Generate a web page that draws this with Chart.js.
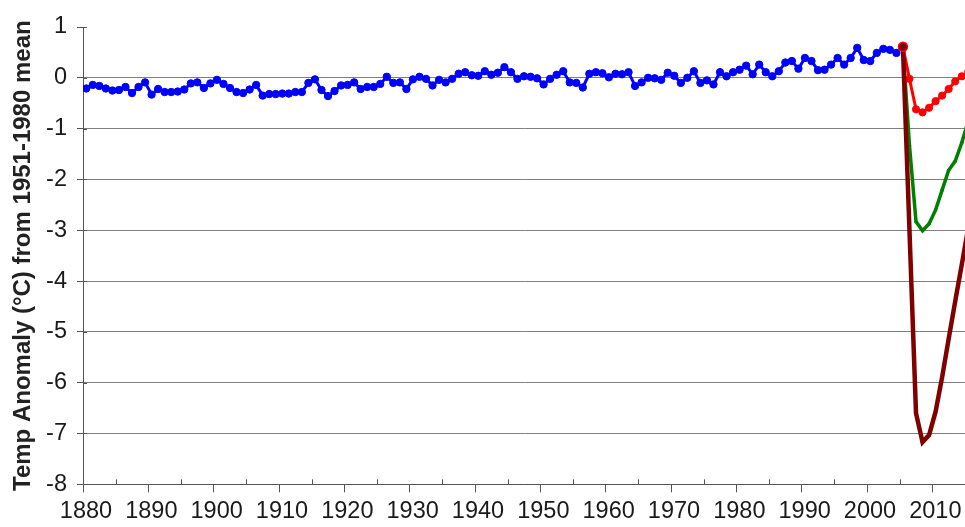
<!DOCTYPE html>
<html>
<head>
<meta charset="utf-8">
<script src="https://cdn.jsdelivr.net/npm/chart.js@4/dist/chart.umd.min.js"></script>
<style>
html,body{margin:0;padding:0;background:#fff;}
#wrap{width:965px;height:527px;position:relative;}
</style>
</head>
<body>
<div id="wrap"><canvas id="c" width="965" height="527"></canvas></div>
<script>
// ---- data ----
// observed annual anomalies, one per year starting 1880
const blueStartYear = 1880;
const blueValues = [
  -0.21,-0.14,-0.16,-0.21,-0.25,-0.24,-0.18,-0.30,-0.18,-0.09,
  -0.33,-0.22,-0.28,-0.28,-0.27,-0.23,-0.11,-0.09,-0.20,-0.11,
  -0.04,-0.12,-0.20,-0.28,-0.30,-0.23,-0.14,-0.35,-0.32,-0.32,
  -0.31,-0.31,-0.28,-0.28,-0.10,-0.03,-0.24,-0.36,-0.26,-0.15,
  -0.14,-0.09,-0.22,-0.18,-0.18,-0.12, 0.02,-0.10,-0.09,-0.22,
  -0.03, 0.02,-0.02,-0.15,-0.04,-0.09,-0.02, 0.08, 0.11, 0.05,
   0.04, 0.13, 0.06, 0.10, 0.21, 0.11,-0.02, 0.03, 0.02,-0.01,
  -0.13,-0.02, 0.06, 0.13,-0.09,-0.10,-0.19, 0.08, 0.11, 0.09,
   0.01, 0.08, 0.07, 0.11,-0.16,-0.09, 0.00,-0.01,-0.04, 0.10,
   0.04,-0.10, 0.00, 0.13,-0.10,-0.05,-0.13, 0.11, 0.03, 0.11,
   0.16, 0.24, 0.07, 0.26, 0.11, 0.03, 0.13, 0.30, 0.33, 0.18,
   0.39, 0.33, 0.15, 0.16, 0.26, 0.39, 0.26, 0.39, 0.59, 0.35,
   0.33, 0.49, 0.57, 0.55, 0.49
];
const scenarioYears = [2005,2006,2007,2008,2009,2010,2011,2012,2013,2014,2015];
const redValues     = [0.61,-0.02,-0.62,-0.68,-0.59,-0.46,-0.35,-0.22,-0.07, 0.03, 0.12];
const greenValues   = [0.61,-1.33,-2.83,-3.01,-2.87,-2.60,-2.21,-1.82,-1.64,-1.28,-0.85];
const darkRedValues = [0.61,-3.00,-6.60,-7.17,-7.03,-6.57,-5.89,-5.14,-4.40,-3.68,-2.95];
const xTickLabels = ['1880','1890','1900','1910','1920','1930','1940','1950','1960','1970','1980','1990','2000','2010'];
const yTickValues = [1,0,-1,-2,-3,-4,-5,-6,-7,-8];
const yTitle = 'Temp Anomaly (\u00B0C) from 1951-1980 mean';

// ---- build ----
const bluePts = blueValues.map((v, i) => ({x: blueStartYear + i, y: v}));
const toPts = vals => vals.map((v, i) => ({x: scenarioYears[i], y: v}));
// category boundaries sit half a year before each labelled year
const majorTicks = xTickLabels.map(l => Number(l) - 0.5);
const minorTicks = xTickLabels.map(l => Number(l) + 4.5);

const FONT = "'Liberation Sans', Arial, sans-serif";
const AXIS = '#555555';

const extraTicks = {
  id: 'extraTicks',
  afterDraw(chart) {
    const {ctx, chartArea} = chart;
    const x = chart.scales.x, y = chart.scales.y;
    ctx.save();
    ctx.strokeStyle = AXIS;
    ctx.lineWidth = 1;
    ctx.beginPath();
    minorTicks.forEach(v => {
      const px = Math.round(x.getPixelForValue(v)) + 0.5;
      ctx.moveTo(px, chartArea.bottom);
      ctx.lineTo(px, chartArea.bottom - 5);
    });
    yTickValues.forEach(v => {
      const py = Math.round(y.getPixelForValue(v)) + 0.5;
      ctx.moveTo(chartArea.left, py);
      ctx.lineTo(chartArea.left + 4, py);
    });
    ctx.stroke();
    ctx.restore();
  }
};

new Chart(document.getElementById('c'), {
  type: 'line',
  data: {
    datasets: [
      {
        data: toPts(darkRedValues),
        borderColor: '#800000',
        backgroundColor: '#800000',
        borderWidth: 4.5,
        pointRadius: c => c.dataIndex === 0 ? 4.5 : 1.8,
        pointBorderWidth: c => c.dataIndex === 0 ? 1.5 : 0,
        pointBorderColor: c => c.dataIndex === 0 ? '#ff0000' : '#800000',
        pointBackgroundColor: '#800000',
        tension: 0
      },
      {
        data: toPts(redValues),
        borderColor: '#ff0000',
        backgroundColor: '#ff0000',
        borderWidth: 3,
        pointRadius: 3.6,
        pointBorderWidth: 1,
        pointBorderColor: '#ff0000',
        pointBackgroundColor: '#ff0000',
        tension: 0
      },
      {
        data: toPts(greenValues),
        borderColor: '#008000',
        backgroundColor: '#008000',
        borderWidth: 3.5,
        pointRadius: 1.8,
        pointBorderWidth: 0,
        pointBackgroundColor: '#008000',
        tension: 0
      },
      {
        data: bluePts,
        borderColor: '#0000ff',
        backgroundColor: '#0000ff',
        borderWidth: 3,
        pointRadius: 3.7,
        pointBorderWidth: 1,
        pointBorderColor: '#0000ff',
        pointBackgroundColor: '#0000ff',
        tension: 0
      }
    ]
  },
  options: {
    responsive: false,
    animation: false,
    devicePixelRatio: 1,
    layout: {autoPadding: false, padding: {top: 27, right: 0, bottom: 0, left: 0}},
    plugins: {legend: {display: false}, tooltip: {enabled: false}},
    scales: {
      x: {
        type: 'linear',
        min: 1879.5,
        max: 2014.5,
        afterBuildTicks: s => { s.ticks = majorTicks.map(v => ({value: v})); },
        afterFit: s => { s.height = 42.7; s.paddingRight = 0; s.paddingLeft = 0; },
        grid: {drawOnChartArea: false, drawTicks: true, tickLength: 8, tickColor: AXIS, tickWidth: 1},
        border: {color: AXIS, width: 1},
        ticks: {
          autoSkip: false, maxRotation: 0, minRotation: 0,
          padding: 5, labelOffset: 3,
          color: '#1a1a1a',
          font: {family: FONT, size: 23.5},
          callback: (v, i) => xTickLabels[i]
        }
      },
      y: {
        min: -8,
        max: 1,
        afterBuildTicks: s => { s.ticks = yTickValues.map(v => ({value: v})); },
        afterFit: s => { s.width = 83; },
        grid: {
          color: c => (c.tick && c.tick.value === 1) ? 'rgba(0,0,0,0)' : '#808080',
          lineWidth: 1,
          drawTicks: true, tickLength: 6, tickColor: AXIS
        },
        border: {color: AXIS, width: 1},
        ticks: {
          padding: 10,
          color: '#1a1a1a',
          font: {family: FONT, size: 23.5},
          callback: v => String(v)
        },
        title: {
          display: true,
          text: yTitle,
          color: '#222222',
          font: {family: FONT, size: 24, weight: 'bold'},
          padding: {top: 9, bottom: 0}
        }
      }
    }
  },
  plugins: [extraTicks]
});
</script>
</body>
</html>
